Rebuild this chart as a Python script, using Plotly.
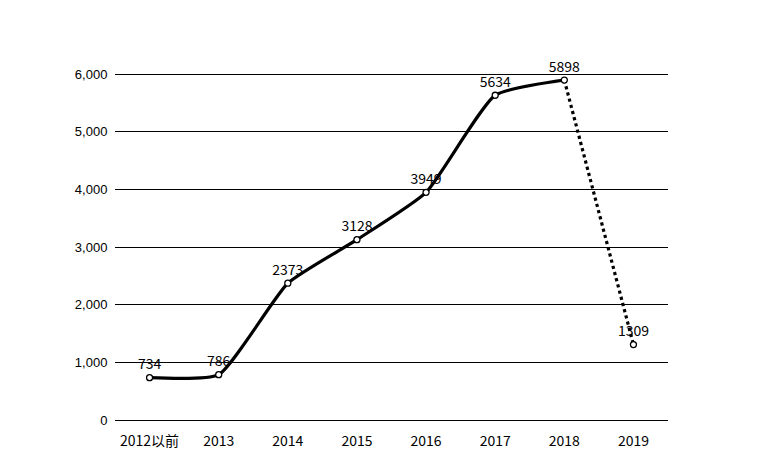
import plotly.graph_objects as go

categories = ["2012以前", "2013", "2014", "2015", "2016", "2017", "2018", "2019"]
values = [734, 786, 2373, 3128, 3949, 5634, 5898, 1309]
labels = [str(v) for v in values]
y_ticks = [0, 1000, 2000, 3000, 4000, 5000, 6000]

cjk = "Noto Sans CJK SC"

fig = go.Figure()
# solid smoothed part (through 2018)
fig.add_trace(go.Scatter(
    x=categories[:7], y=values[:7], mode="lines",
    line=dict(color="black", width=3.2, shape="spline", smoothing=0.5),
    hoverinfo="skip", showlegend=False))
# dotted drop to 2019
fig.add_trace(go.Scatter(
    x=categories[6:], y=values[6:], mode="lines",
    line=dict(color="black", width=3.2, dash="dot"),
    hoverinfo="skip", showlegend=False))
# markers + labels
fig.add_trace(go.Scatter(
    x=categories, y=values, mode="markers+text",
    marker=dict(color="white", size=6, line=dict(color="black", width=1.3)),
    text=labels, textposition="top center",
    textfont=dict(family=cjk, size=14, color="black"),
    cliponaxis=False, showlegend=False))

fig.update_layout(
    width=776, height=443,
    margin=dict(l=107, r=116, t=65, b=31),
    paper_bgcolor="white", plot_bgcolor="white",
    xaxis=dict(type="category", range=[-0.5, 7.5], showgrid=False,
               showline=False, zeroline=False, automargin=False,
               ticks="outside", ticklen=8, tickcolor="rgba(0,0,0,0)",
               tickfont=dict(family=cjk, size=14, color="black")),
    yaxis=dict(range=[0, 6020], tickvals=y_ticks, automargin=False,
               tickformat=",", showgrid=True, gridcolor="black", gridwidth=1,
               zeroline=True, zerolinecolor="black", zerolinewidth=1.3,
               showline=False, ticks="outside", ticklen=4, tickcolor="rgba(0,0,0,0)",
               tickfont=dict(family="Liberation Sans, Arial", size=13, color="black")),
)
fig.write_html("out.html")
